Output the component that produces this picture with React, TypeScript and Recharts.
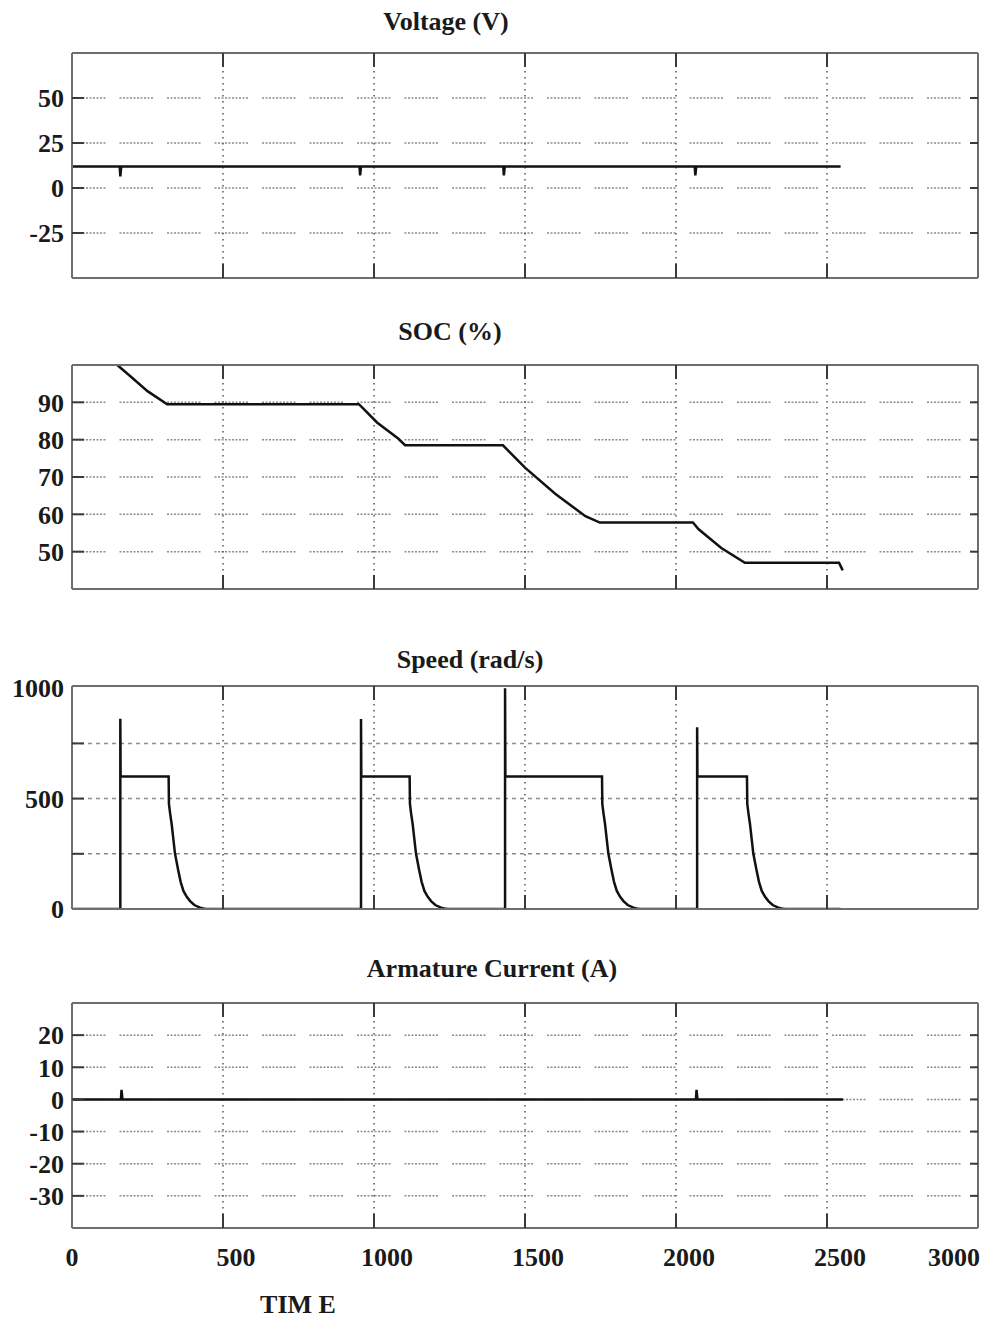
import React from "react";
import {
  LineChart,
  Line,
  XAxis,
  YAxis,
  CartesianGrid,
} from "recharts";

const FONT = "'Liberation Serif', 'Times New Roman', serif";
const INK = "#1a1a1a";
const FRAME = "#6e6e6e";
const PAD = 15;

const TIME_TICKS = [0, 500, 1000, 1500, 2000, 2500, 3000];

// Voltage (V)
const voltageTime = [0, 158, 160, 163, 952, 954, 957, 1428, 1430, 1433, 2062, 2064, 2067, 2545];
const voltageValue = [12, 12, 6.5, 12, 12, 7, 12, 12, 7, 12, 12, 7, 12, 12];
const voltageTicks = [-25, 0, 25, 50];

// SOC (%)
const socTime = [150, 200, 250, 315, 950, 964, 1010, 1080, 1103, 1427, 1445, 1500, 1600, 1700, 1748, 2056, 2075, 2150, 2228, 2540, 2552];
const socValue = [100, 96.5, 93, 89.5, 89.5, 88.4, 84.6, 80.3, 78.5, 78.5, 77, 72.5, 65.5, 59.5, 57.8, 57.8, 56, 51, 47, 47, 45];
const socTicks = [50, 60, 70, 80, 90];

// Speed (rad/s)
const speedTime = [
  0, 160, 160, 161, 320, 321, 325, 330, 341, 352, 360, 369, 380, 391, 405, 424, 435, 446,
  957, 957, 958, 1118, 1119, 1123, 1128, 1139, 1150, 1158, 1167, 1178, 1189, 1203, 1222, 1233, 1244,
  1434, 1434, 1435, 1755, 1756, 1760, 1765, 1776, 1787, 1795, 1804, 1815, 1826, 1840, 1859, 1870, 1881,
  2070, 2070, 2071, 2235, 2236, 2240, 2245, 2256, 2267, 2275, 2284, 2295, 2306, 2320, 2339, 2350, 2361, 2545,
];
const speedValue = [
  0, 0, 862, 600, 600, 476, 432, 385, 251, 173, 122, 82, 55, 36, 18, 6, 2, 0,
  0, 860, 600, 600, 476, 432, 385, 251, 173, 122, 82, 55, 36, 18, 6, 2, 0,
  0, 1000, 600, 600, 476, 432, 385, 251, 173, 122, 82, 55, 36, 18, 6, 2, 0,
  0, 823, 600, 600, 476, 432, 385, 251, 173, 122, 82, 55, 36, 18, 6, 2, 0, 0,
];
const speedTicks = [0, 500, 1000];
const speedGrid = [250, 500, 750];

// Armature Current (A)
const currentTime = [0, 162, 164, 167, 2066, 2068, 2071, 2553];
const currentValue = [0, 0, 3, 0, 0, 3, 0, 0];
const currentTicks = [-30, -20, -10, 0, 10, 20];

const zip = (ts: number[], vs: number[]) => ts.map((t, i) => ({ t, v: vs[i] }));

const noTick = () => <g />;

const TimeTick = (props: any) => {
  const { x, y, payload } = props;
  const val = payload.value;
  const last = val === 3000;
  const tx = last ? x + 2 : val === 0 ? x : x + 13;
  return (
    <text
      x={tx}
      y={y + 29}
      dy="0.35em"
      textAnchor={last ? "end" : "middle"}
      fill={INK}
      fontFamily={FONT}
      fontWeight="bold"
      fontSize={26}
    >
      {val}
    </text>
  );
};

interface PanelProps {
  plotTop: number;
  plotHeight: number;
  data: { t: number; v: number }[];
  yDomain: [number, number];
  yTicks: number[];
  gridTicks?: number[];
  gridDash: string;
  gridColor: string;
  showTime?: boolean;
}

function Panel({ plotTop, plotHeight, data, yDomain, yTicks, gridTicks, gridDash, gridColor, showTime }: PanelProps) {
  const extra = showTime ? 50 : PAD;
  const ticksY = gridTicks ?? yTicks;
  return (
    <div style={{ position: "absolute", left: 0, top: plotTop - PAD }}>
      <LineChart
        width={987}
        height={plotHeight + PAD + extra}
        data={data}
        margin={{ top: PAD, right: 9, bottom: showTime ? 0 : PAD, left: 0 }}
      >
        <XAxis
          xAxisId="b"
          type="number"
          dataKey="t"
          domain={[0, 3000]}
          ticks={TIME_TICKS}
          orientation="bottom"
          mirror
          allowDataOverflow
          axisLine={{ stroke: FRAME, strokeWidth: 2 }}
          tickLine={{ stroke: "#3a3a3a", strokeWidth: 2 }}
          tickSize={14}
          tick={noTick}
        />
        <XAxis
          xAxisId="t"
          type="number"
          dataKey="t"
          domain={[0, 3000]}
          ticks={TIME_TICKS}
          orientation="top"
          mirror
          allowDataOverflow
          axisLine={{ stroke: FRAME, strokeWidth: 2 }}
          tickLine={{ stroke: "#3a3a3a", strokeWidth: 2 }}
          tickSize={14}
          tick={noTick}
        />
        {showTime && (
          <XAxis
            xAxisId="l"
            type="number"
            dataKey="t"
            domain={[0, 3000]}
            ticks={TIME_TICKS}
            orientation="bottom"
            height={50}
            axisLine={false}
            tickLine={false}
            tickSize={0}
            tickMargin={0}
            interval={0}
            tick={<TimeTick />}
          />
        )}
        <YAxis
          yAxisId="y"
          type="number"
          domain={yDomain}
          ticks={yTicks}
          interval={0}
          allowDataOverflow
          width={72}
          axisLine={{ stroke: FRAME, strokeWidth: 2 }}
          tickLine={false}
          tick={{ fill: INK, fontFamily: FONT, fontWeight: "bold", fontSize: 26 }}
        />
        <YAxis
          yAxisId="yl"
          type="number"
          domain={yDomain}
          ticks={ticksY}
          interval={0}
          allowDataOverflow
          mirror
          orientation="left"
          axisLine={false}
          tickLine={{ stroke: "#3a3a3a", strokeWidth: 2 }}
          tickSize={12}
          tick={noTick}
        />
        <YAxis
          yAxisId="yr"
          type="number"
          domain={yDomain}
          ticks={ticksY}
          interval={0}
          allowDataOverflow
          mirror
          orientation="right"
          axisLine={{ stroke: FRAME, strokeWidth: 2 }}
          tickLine={{ stroke: "#3a3a3a", strokeWidth: 2 }}
          tickSize={8}
          tick={noTick}
        />
        <CartesianGrid
          xAxisId="b"
          yAxisId="yl"
          vertical={false}
          stroke={gridColor}
          strokeWidth={1.5}
          strokeDasharray={gridDash}
        />
        <CartesianGrid
          xAxisId="b"
          yAxisId="yl"
          horizontal={false}
          stroke="#555"
          strokeWidth={1.5}
          strokeDasharray="1.5 4.5"
        />
        <Line
          xAxisId="b"
          yAxisId="y"
          type="linear"
          dataKey="v"
          stroke="#111"
          strokeWidth={2.5}
          dot={false}
          activeDot={false}
          isAnimationActive={false}
        />
      </LineChart>
    </div>
  );
}

const titleStyle = (cx: number, cy: number): React.CSSProperties => ({
  position: "absolute",
  left: cx,
  top: cy,
  transform: "translate(-50%, -50%)",
  fontFamily: FONT,
  fontWeight: "bold",
  fontSize: 26,
  lineHeight: 1,
  color: INK,
  whiteSpace: "nowrap",
});

const DOTS = "2 1.5 2 1.5 2 1.5 2 1.5 2 1.5 2 1.5 2 1.5 2 1.5 2 1.5 2 14";

export default function App() {
  return (
    <div
      style={{
        position: "absolute",
        left: 0,
        top: 0,
        width: 987,
        height: 1318,
        background: "#fff",
        overflow: "hidden",
      }}
    >
      <div style={titleStyle(446, 22)}>Voltage (V)</div>
      <Panel
        plotTop={53}
        plotHeight={225}
        data={zip(voltageTime, voltageValue)}
        yDomain={[-50, 75]}
        yTicks={voltageTicks}
        gridDash={DOTS}
        gridColor="#8c8c8c"
      />

      <div style={titleStyle(450, 332)}>SOC (%)</div>
      <Panel
        plotTop={365}
        plotHeight={224}
        data={zip(socTime, socValue)}
        yDomain={[40, 100]}
        yTicks={socTicks}
        gridDash={DOTS}
        gridColor="#8c8c8c"
      />

      <div style={titleStyle(470, 660)}>Speed (rad/s)</div>
      <Panel
        plotTop={686}
        plotHeight={223}
        data={zip(speedTime, speedValue)}
        yDomain={[0, 1010]}
        yTicks={speedTicks}
        gridTicks={speedGrid}
        gridDash="4 4"
        gridColor="#8c8c8c"
      />

      <div style={titleStyle(492, 969)}>Armature Current (A)</div>
      <Panel
        plotTop={1003}
        plotHeight={225}
        data={zip(currentTime, currentValue)}
        yDomain={[-40, 30]}
        yTicks={currentTicks}
        gridDash={DOTS}
        gridColor="#8c8c8c"
        showTime
      />

      <div style={titleStyle(298, 1305)}>TIM E</div>
    </div>
  );
}
